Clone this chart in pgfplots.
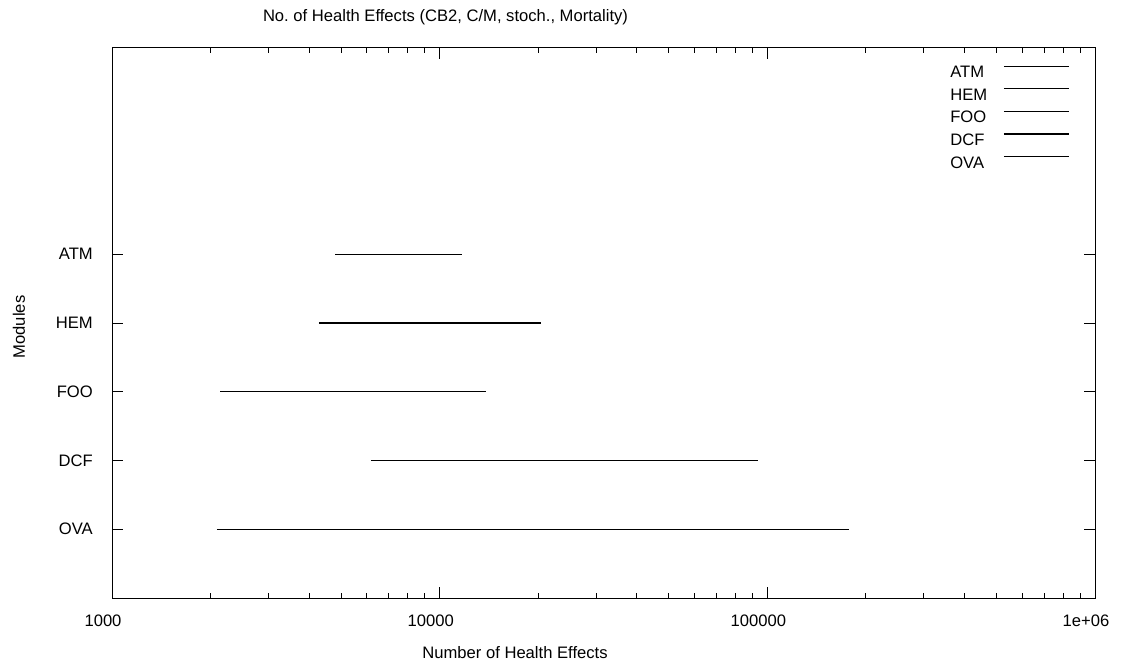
\documentclass[border=0pt]{standalone}
\usepackage{pgfplots}
\pgfplotsset{compat=1.18}
\usepackage{fontspec}
\setmainfont{Liberation Sans}
\newlength\px
\setlength\px{0.75pt}
\begin{document}
\begin{tikzpicture}[font=\fontsize{12.45pt}{14pt}\selectfont]
\path[use as bounding box] (0,0) rectangle (1126\px,668\px);
\begin{axis}[
  at={(112\px,70\px)}, anchor=south west,
  scale only axis, width=983\px, height=550\px,
  xmode=log, xmin=1000, xmax=1000000,
  ymin=0, ymax=8,
  xtick={1000,10000,100000,1000000},
  xticklabels={1000,10000,100000,1e+06},
  ytick={1,2,3,4,5},
  yticklabels={OVA,DCF,FOO,HEM,ATM},
  /pgf/number format/assume math mode=true,
  tick align=inside,
  major tick length=11\px, minor tick length=5\px,
  every tick/.style={black, line width=1\px},
  axis line style={black, line width=1\px},
  xticklabel style={anchor=north, inner sep=0pt, text height=11.5\px, text depth=0pt, yshift=-17\px, xshift=-9\px},
  yticklabel style={anchor=east, inner sep=0pt, xshift=-19\px},
  legend style={draw=none, fill=none, inner sep=0pt,
    at={(0.8525,0.9686)}, anchor=north west,
    row sep=10.5\px, column sep=16\px,
    nodes={inner sep=0pt, text height=11.5\px, text depth=0pt}},
  legend plot pos=right, legend cell align=left,
  legend image code/.code={\draw[#1] (0\px,5.75\px) -- (65\px,5.75\px);},
]
\addplot[black, line width=1.2\px, mark=none] coordinates {(4793,5) (11697,5)};
\addlegendentry{ATM}
\addplot[black, line width=1.2\px, mark=none] coordinates {(4282,4) (20384,4)};
\addlegendentry{HEM}
\addplot[black, line width=1.2\px, mark=none] coordinates {(2136,3) (13850,3)};
\addlegendentry{FOO}
\addplot[black, line width=1.2\px, mark=none] coordinates {(6171,2) (93650,2)};
\addlegendentry{DCF}
\addplot[black, line width=1.2\px, mark=none] coordinates {(2091,1) (177600,1)};
\addlegendentry{OVA}
\end{axis}
\node at (445.5\px,650.5\px) {No.\ of Health Effects (CB2, C/M, stoch., Mortality)};
\node at (515\px,15\px) {Number of Health Effects};
\node[rotate=90] at (19\px,341\px) {Modules};
\end{tikzpicture}
\end{document}
